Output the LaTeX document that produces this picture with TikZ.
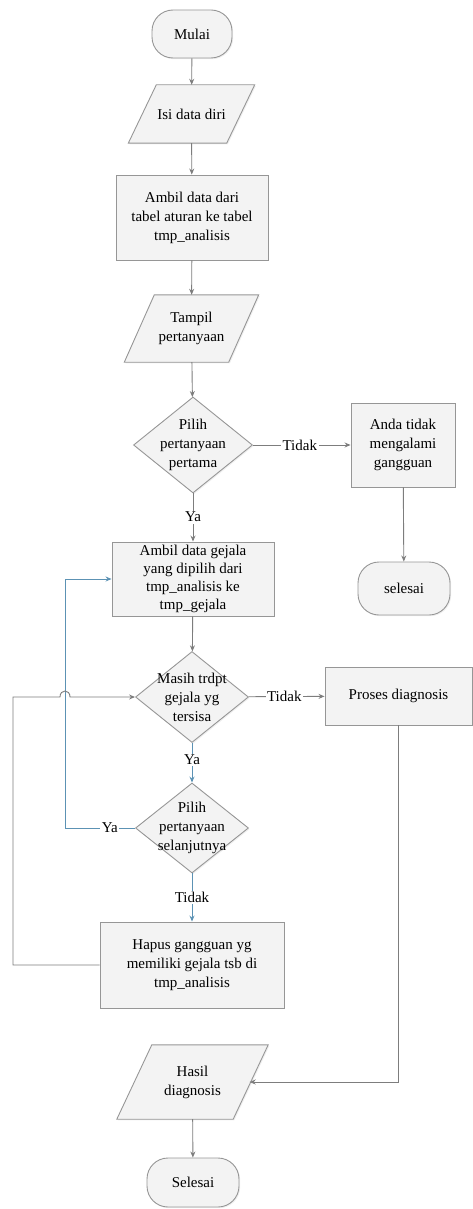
\documentclass[tikz,border=0pt]{standalone}
\usepackage{fontspec}
\setmainfont{Liberation Serif}
\usetikzlibrary{shapes.geometric,arrows.meta,shadows}
\definecolor{boxfill}{RGB}{243,243,243}
\definecolor{boxline}{RGB}{150,150,150}
\definecolor{conn}{RGB}{125,125,125}
\definecolor{blueconn}{RGB}{92,146,180}
\begin{document}
\begin{tikzpicture}[x=1pt,y=-1pt,
  font=\fontsize{15}{19}\selectfont,
  base/.style={draw=boxline, fill=boxfill, line width=0.9pt,
    drop shadow={opacity=0.12, shadow xshift=1.2pt, shadow yshift=-1.2pt}},
  term/.style={base, rectangle, rounded corners=21pt, inner sep=0pt, align=center},
  proc/.style={base, rectangle, inner sep=0pt, align=center},
  iobody/.style={rectangle, inner sep=0pt, align=center},
  para/.style={base},
  dec/.style={base, diamond, inner sep=0pt},
  txt/.style={align=center, inner sep=0pt},
  lbl/.style={fill=white, inner sep=1.5pt},
  arr/.style={draw=conn, line width=0.9pt, -{Stealth[length=6pt,width=5pt]}},
  barr/.style={draw=blueconn, line width=1pt, -{Stealth[length=6pt,width=5pt]}}]
\useasboundingbox (0,0) rectangle (473,1209);

% nodes
\node[term, minimum width=80pt, minimum height=48pt] (mulai) at (192,34) {Mulai};

\node[iobody, minimum width=98pt, minimum height=58pt] (isi) at (191.5,114) {};
\draw[para] ([xshift=-14pt]isi.south west) -- ([xshift=14pt]isi.north west) -- ([xshift=14pt]isi.north east) -- ([xshift=-14pt]isi.south east) -- cycle;
\node[txt] (isit) at (isi) {Isi data diri};

\node[proc, minimum width=152pt, minimum height=85pt] (ambil) at (192,217.5) {Ambil data dari\\tabel aturan ke tabel\\tmp\_analisis};

\node[iobody, minimum width=104pt, minimum height=67pt] (tampil) at (191.5,328.5) {};
\draw[para] ([xshift=-15pt]tampil.south west) -- ([xshift=15pt]tampil.north west) -- ([xshift=15pt]tampil.north east) -- ([xshift=-15pt]tampil.south east) -- cycle;
\node[txt] (tampilt) at (tampil) {Tampil\\pertanyaan};

\node[dec, minimum width=119pt, minimum height=96pt] (pilih1) at (193,445) {};
\node[txt] (pilih1t) at (pilih1) {Pilih\\pertanyaan\\pertama};
\node[proc, minimum width=104pt, minimum height=84pt] (anda) at (403,445) {Anda tidak\\mengalami\\gangguan};
\node[term, minimum width=92pt, minimum height=53pt] (sel1) at (404,588.5) {selesai};
\node[proc, minimum width=162pt, minimum height=74pt, font=\fontsize{15}{18}\selectfont] (ambilg) at (193,579) {Ambil data gejala\\yang dipilih dari\\tmp\_analisis ke\\tmp\_gejala};
\node[dec, minimum width=113pt, minimum height=91pt] (masih) at (192,697) {};
\node[txt] (masiht) at (masih) {Masih trdpt\\gejala yg\\tersisa};
\node[proc, minimum width=147pt, minimum height=58pt] (proses) at (398.5,696) {Proses diagnosis};
\node[dec, minimum width=113pt, minimum height=90pt] (pilih2) at (192,828) {};
\node[txt] (pilih2t) at (pilih2) {Pilih\\pertanyaan\\selanjutnya};
\node[proc, minimum width=184pt, minimum height=86pt] (hapus) at (192,965) {Hapus gangguan yg\\memiliki gejala tsb di\\tmp\_analisis};

\node[iobody, minimum width=116pt, minimum height=74pt] (hasil) at (192.5,1082) {};
\draw[para] ([xshift=-17.5pt]hasil.south west) -- ([xshift=17.5pt]hasil.north west) -- ([xshift=17.5pt]hasil.north east) -- ([xshift=-17.5pt]hasil.south east) -- cycle;
\node[txt] (hasilt) at (hasil) {Hasil\\diagnosis};

\node[term, minimum width=92pt, minimum height=49pt] (selesai) at (193,1182.5) {Selesai};

\coordinate (loopA) at (13,965);
\coordinate (loopB) at (13,697);
\coordinate (jump1) at (60,697);
\coordinate (jump2) at (70,697);
\coordinate (backX) at (65,828);

% connectors
\draw[arr] (mulai) -- (isi);
\draw[arr] (isi) -- (ambil);
\draw[arr] (ambil) -- (tampil);
\draw[arr] (tampil) -- (pilih1);
\draw[arr] (pilih1) -- (anda) node[lbl, pos=0.48] (lt1) {Tidak};
\draw[arr] (pilih1) -- (ambilg) node[lbl, pos=0.49] (ly1) {Ya};
\draw[arr] (anda) -- (sel1);
\draw[arr] (ambilg) -- (masih);
\draw[arr] (masih) -- (proses) node[lbl, pos=0.47] (lt2) {Tidak};
\draw[barr] (masih) -- (pilih2) node[lbl, pos=0.43] (ly2) {Ya};
\draw[barr] (pilih2.west) -- node[lbl, pos=0.36] (ly3) {Ya} (backX) |- (ambilg.west);
\draw[barr] (pilih2) -- (hapus) node[lbl, pos=0.5] (lt3) {Tidak};
\draw[arr] (hapus.west) -- (loopA) -- (loopB) -- (jump1) .. controls (60,689) and (70,689) .. (jump2) -- (masih.west);
\draw[arr] (proses.south) -- (proses.south |- hasil) -- ([xshift=-1pt]hasil.east);
\draw[arr] (hasil) -- (selesai);
\end{tikzpicture}
\end{document}
